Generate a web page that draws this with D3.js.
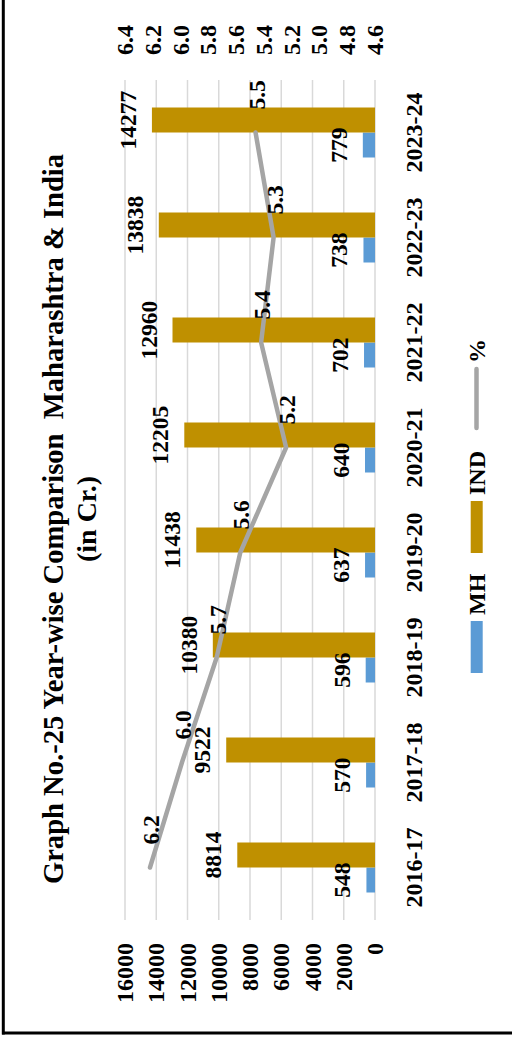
<!DOCTYPE html>
<html><head><meta charset="utf-8">
<script src="https://cdn.jsdelivr.net/npm/d3@7"></script>
<style>html,body{margin:0;padding:0;background:#fff;overflow:hidden}</style>
</head><body>
<svg id="c" width="512" height="1038"></svg>
<script>
// ---- data ----
const categories = ["2016-17","2017-18","2018-19","2019-20","2020-21","2021-22","2022-23","2023-24"];
const mhValues = [548,570,596,637,640,702,738,779];
const indValues = [8814,9522,10380,11438,12205,12960,13838,14277];
const pctValues = [6.22,5.99,5.74,5.57,5.24,5.42,5.33,5.46];
const valueTicks = [0,2000,4000,6000,8000,10000,12000,14000,16000];
const pctTicks = [4.6,4.8,5.0,5.2,5.4,5.6,5.8,6.0,6.2,6.4];
const seriesNames = ["MH","IND","%"];
const titleLines = ["Graph No.-25 Year-wise Comparison  Maharashtra & India","(in Cr.)"];

// ---- layout (chart drawn in landscape, rotated -90°) ----
const W = 1038, H = 512;
const FONT = "'Liberation Serif','Times New Roman',serif";
const colMH = "#5B9BD5", colIND = "#BF9000", colPct = "#A5A5A5";

const svg = d3.select("#c");
// frame
svg.append("line").attr("x1",3.3).attr("x2",3.3).attr("y1",0).attr("y2",1034.5).attr("stroke","#000").attr("stroke-width",3);
svg.append("line").attr("x1",2).attr("x2",512).attr("y1",1033).attr("y2",1033).attr("stroke","#000").attr("stroke-width",3);

const g = svg.append("g").attr("transform",`translate(0,${W}) rotate(-90)`)
  .style("font-family",FONT).style("font-weight","bold");

const plotL = 118, plotR = 958, plotT = 125, plotB = 375;
const x0 = d3.scaleBand().domain(categories).range([plotL, plotR]).padding(0);
const groupW = 50;
const x1 = d3.scaleBand().domain(["MH","IND"]).range([0, groupW]).padding(0);
const y = d3.scaleLinear().domain([0,16000]).range([plotB, plotT]);
const y2 = d3.scaleLinear().domain([4.6,6.4]).range([plotB, plotT]);
const gx = c => x0(c) + (x0.bandwidth()-groupW)/2;

// gridlines
g.append("g").selectAll("line").data(valueTicks).join("line")
  .attr("x1",plotL).attr("x2",plotR).attr("y1",d=>y(d)).attr("y2",d=>y(d))
  .attr("stroke","#D9D9D9").attr("stroke-width",1.5);

// left axis labels
g.append("g").selectAll("text").data(valueTicks).join("text")
  .attr("x",95).attr("y",d=>y(d)+8).attr("text-anchor","end")
  .attr("font-size",24).text(d=>d);

// right axis labels
g.append("g").selectAll("text").data(pctTicks).join("text")
  .attr("x",983).attr("y",d=>y2(d)+8).attr("text-anchor","start")
  .attr("font-size",24).text(d=>d3.format(".1f")(d));

// category labels
g.append("g").selectAll("text").data(categories).join("text")
  .attr("x",d=>x0(d)+x0.bandwidth()/2).attr("y",422).attr("text-anchor","middle")
  .attr("font-size",24).text(d=>d);

// bars
const rows = categories.map((c,i)=>({c, MH:mhValues[i], IND:indValues[i], pct:pctValues[i]}));
g.append("g").selectAll("rect").data(rows).join("rect")
  .attr("x",d=>gx(d.c)+x1("MH")).attr("width",x1.bandwidth())
  .attr("y",d=>y(d.MH)).attr("height",d=>y(0)-y(d.MH)).attr("fill",colMH);
g.append("g").selectAll("rect").data(rows).join("rect")
  .attr("x",d=>gx(d.c)+x1("IND")).attr("width",x1.bandwidth())
  .attr("y",d=>y(d.IND)).attr("height",d=>y(0)-y(d.IND)).attr("fill",colIND);

// line
const line = d3.line().x(d=>x0(d.c)+x0.bandwidth()/2).y(d=>y2(d.pct));
g.append("path").datum(rows).attr("d",line).attr("fill","none")
  .attr("stroke",colPct).attr("stroke-width",4.5).attr("stroke-linecap","round").attr("stroke-linejoin","round");

// bar labels
g.append("g").selectAll("text").data(rows).join("text")
  .attr("x",d=>gx(d.c)+x1("MH")+x1.bandwidth()/2).attr("y",d=>y(d.MH)-16)
  .attr("text-anchor","middle").attr("font-size",23.5).text(d=>d.MH);
g.append("g").selectAll("text").data(rows).join("text")
  .attr("x",d=>gx(d.c)+x1("IND")+x1.bandwidth()/2).attr("y",d=>y(d.IND)-16)
  .attr("text-anchor","middle").attr("font-size",23.5).text(d=>d.IND);
// line labels
g.append("g").selectAll("text").data(rows).join("text")
  .attr("x",d=>x0(d.c)+x0.bandwidth()/2+23).attr("y",d=>y2(d.pct)+9)
  .attr("text-anchor","start").attr("font-size",23.5).text(d=>d3.format(".1f")(d.pct));

// title
g.append("text").attr("x",519).attr("y",63).attr("text-anchor","middle")
  .attr("font-size",28.6).style("white-space","pre").text(titleLines[0]);
g.append("text").attr("x",519).attr("y",96).attr("text-anchor","middle")
  .attr("font-size",28).style("white-space","pre").text(titleLines[1]);

// legend
const lg = g.append("g");
const legendX = [365, 485, 608];
lg.append("rect").attr("x",legendX[0]).attr("y",470.7).attr("width",52).attr("height",12).attr("fill",colMH);
lg.append("text").attr("x",legendX[0]+58).attr("y",485).attr("font-size",24).text(seriesNames[0]);
lg.append("rect").attr("x",legendX[1]).attr("y",470.7).attr("width",52).attr("height",12).attr("fill",colIND);
lg.append("text").attr("x",legendX[1]+58).attr("y",485).attr("font-size",24).text(seriesNames[1]);
lg.append("line").attr("x1",legendX[2]+2).attr("x2",legendX[2]+61).attr("y1",476.5).attr("y2",476.5)
  .attr("stroke",colPct).attr("stroke-width",4.5).attr("stroke-linecap","round");
lg.append("text").attr("x",legendX[2]+67).attr("y",485).attr("font-size",24).text(seriesNames[2]);
</script>
</body></html>
